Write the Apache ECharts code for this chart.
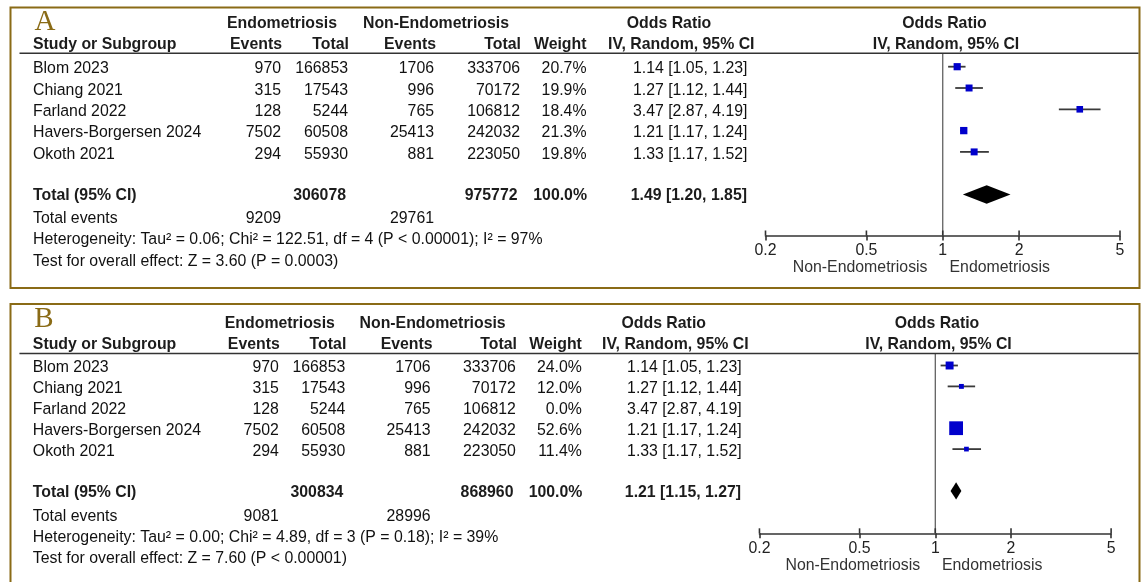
<!DOCTYPE html>
<html>
<head>
<meta charset="utf-8">
<script src="https://cdn.jsdelivr.net/npm/echarts@6/dist/echarts.min.js"></script>
<style>
html, body { margin: 0; padding: 0; background: #fff; }
#chart { width: 1141px; height: 582px; }
</style>
</head>
<body>
<div id="chart"></div>
<script>
// ---- study data ----
const studies = ['Blom 2023', 'Chiang 2021', 'Farland 2022', 'Havers-Borgersen 2024', 'Okoth 2021'];
const endoEvents = [970, 315, 128, 7502, 294];
const endoTotal = [166853, 17543, 5244, 60508, 55930];
const nonEvents = [1706, 996, 765, 25413, 881];
const nonTotal = [333706, 70172, 106812, 242032, 223050];
const orEst = [1.14, 1.27, 3.47, 1.21, 1.33];
const orLow = [1.05, 1.12, 2.87, 1.17, 1.17];
const orHigh = [1.23, 1.44, 4.19, 1.24, 1.52];
const weightA = [20.7, 19.9, 18.4, 21.3, 19.8];
const weightB = [24.0, 12.0, 0.0, 52.6, 11.4];

// pooled odds ratio [estimate, low, high]
const pooledA = [1.49, 1.20, 1.85];
const pooledB = [1.21, 1.15, 1.27];
// [endometriosis total, non-endometriosis total]
const totalsA = [306078, 975772];
const totalsB = [300834, 868960];
// [endometriosis events, non-endometriosis events]
const eventsA = [9209, 29761];
const eventsB = [9081, 28996];
// heterogeneity: [Tau², Chi², df, P, I²]
const hetA = ['0.06', '122.51', '4', 'P < 0.00001', '97'];
const hetB = ['0.00', '4.89', '3', 'P = 0.18', '39'];
// overall effect: [Z, P]
const effectA = ['3.60', 'P = 0.0003'];
const effectB = ['7.60', 'P < 0.00001'];

const tickValues = [0.2, 0.5, 1, 2, 5];

// ---- layout ----
const FONT = '"Liberation Sans", Arial, Helvetica, sans-serif';
const SERIF = '"Liberation Serif", "Times New Roman", serif';
const FS = 15.85;
const GOLD = '#8a6b16';

const panels = [
  {
    letter: 'A', weights: weightA, pooled: pooledA, totals: totalsA, events: eventsA, het: hetA, effect: effectA,
    sx: 1, boxTop: 7.5, boxBottom: 288, letterY: 22.5,
    h1: 24, h2: 45, rule: 53.3, rowTop: 66.7, rowH: 21.3, textDy: 2.4,
    evY: 219, hetY: 240, testY: 261.7, axisY: 235.5, titleY: 268, diamondH: 18.4
  },
  {
    letter: 'B', weights: weightB, pooled: pooledB, totals: totalsB, events: eventsB, het: hetB, effect: effectB,
    sx: 0.992, boxTop: 304, boxBottom: 600, letterY: 319,
    h1: 323.3, h2: 344.3, rule: 353.5, rowTop: 365.5, rowH: 20.9, textDy: 2.2,
    evY: 516.3, hetY: 537.3, testY: 558.3, axisY: 533.3, titleY: 565.7, diamondH: 17.3
  }
];

// column anchors (panel A scale; panel B is slightly narrower)
const COL = {
  study: 33, ee: 281, et: 348, ne: 434, nt: 520, w: 586.5, or: 747.5,
  hEndoC: 282, hNonC: 436, hOrC: 669, hIvR: 754.5,
  hEvR: 282, hEtR: 349, hNeR: 436, hNtR: 521, hWR: 586.5,
  tEtR: 346, tNtR: 517.5, tWR: 587, tOrR: 747,
  plotC: 944.5, axisL: 765.5, axisR: 1120, nonTitleR: 927.5, endoTitleL: 949.5,
  ruleL: 19.5, boxL: 10.5, boxR: 1139.5
};

function px(p, x) { return 10 + (x - 10) * p.sx; }

function txt(x, y, s, opt) {
  return {
    type: 'text', x: x, y: y, silent: true, z: 10,
    style: Object.assign({
      text: s, fontFamily: FONT, fontSize: FS, fill: '#111',
      align: 'left', verticalAlign: 'middle'
    }, opt || {})
  };
}
const R = { align: 'right' };
const C = { align: 'center' };
const BOLD = { fontWeight: 'bold', fill: '#1c1c1c' };

function fmtOR(o, l, h) {
  return o.toFixed(2) + ' [' + l.toFixed(2) + ', ' + h.toFixed(2) + ']';
}

const graphics = [];
panels.forEach(function (p) {
  // frame
  graphics.push({
    type: 'rect', silent: true, z: 1,
    shape: { x: COL.boxL, y: p.boxTop, width: COL.boxR - COL.boxL, height: p.boxBottom - p.boxTop },
    style: { fill: 'none', stroke: GOLD, lineWidth: 2 }
  });
  graphics.push(txt(px(p, 34.5), p.letterY, p.letter, { fontFamily: SERIF, fontSize: 29, fill: GOLD }));

  // header rows
  graphics.push(txt(px(p, COL.hEndoC), p.h1, 'Endometriosis', Object.assign({}, BOLD, C)));
  graphics.push(txt(px(p, COL.hNonC), p.h1, 'Non-Endometriosis', Object.assign({}, BOLD, C)));
  graphics.push(txt(px(p, COL.hOrC), p.h1, 'Odds Ratio', Object.assign({}, BOLD, C)));
  graphics.push(txt(px(p, COL.plotC), p.h1, 'Odds Ratio', Object.assign({}, BOLD, C)));
  graphics.push(txt(px(p, COL.study), p.h2, 'Study or Subgroup', BOLD));
  graphics.push(txt(px(p, COL.hEvR), p.h2, 'Events', Object.assign({}, BOLD, R)));
  graphics.push(txt(px(p, COL.hEtR), p.h2, 'Total', Object.assign({}, BOLD, R)));
  graphics.push(txt(px(p, COL.hNeR), p.h2, 'Events', Object.assign({}, BOLD, R)));
  graphics.push(txt(px(p, COL.hNtR), p.h2, 'Total', Object.assign({}, BOLD, R)));
  graphics.push(txt(px(p, COL.hWR), p.h2, 'Weight', Object.assign({}, BOLD, R)));
  graphics.push(txt(px(p, COL.hIvR), p.h2, 'IV, Random, 95% CI', Object.assign({}, BOLD, R)));
  graphics.push(txt(px(p, COL.plotC) + 1.5, p.h2, 'IV, Random, 95% CI', Object.assign({}, BOLD, C)));

  // rule under the header
  graphics.push({
    type: 'line', silent: true, z: 2,
    shape: { x1: px(p, COL.ruleL), y1: p.rule, x2: COL.boxR - 1, y2: p.rule },
    style: { stroke: '#333', lineWidth: 1.5 }
  });

  // study rows
  studies.forEach(function (name, i) {
    const y = p.rowTop + i * p.rowH + p.textDy;
    graphics.push(txt(px(p, COL.study), y, name));
    graphics.push(txt(px(p, COL.ee), y, String(endoEvents[i]), R));
    graphics.push(txt(px(p, COL.et), y, String(endoTotal[i]), R));
    graphics.push(txt(px(p, COL.ne), y, String(nonEvents[i]), R));
    graphics.push(txt(px(p, COL.nt), y, String(nonTotal[i]), R));
    graphics.push(txt(px(p, COL.w), y, p.weights[i].toFixed(1) + '%', R));
    graphics.push(txt(px(p, COL.or), y, fmtOR(orEst[i], orLow[i], orHigh[i]), R));
  });

  // pooled row
  const ty = p.rowTop + 6 * p.rowH + p.textDy - 0.8;
  graphics.push(txt(px(p, COL.study), ty, 'Total (95% CI)', BOLD));
  graphics.push(txt(px(p, COL.tEtR), ty, String(p.totals[0]), Object.assign({}, BOLD, R)));
  graphics.push(txt(px(p, COL.tNtR), ty, String(p.totals[1]), Object.assign({}, BOLD, R)));
  graphics.push(txt(px(p, COL.tWR), ty, '100.0%', Object.assign({}, BOLD, R)));
  graphics.push(txt(px(p, COL.tOrR), ty, fmtOR(p.pooled[0], p.pooled[1], p.pooled[2]), Object.assign({}, BOLD, R)));

  // summary lines
  graphics.push(txt(px(p, COL.study), p.evY, 'Total events'));
  graphics.push(txt(px(p, COL.ee), p.evY, String(p.events[0]), R));
  graphics.push(txt(px(p, COL.ne), p.evY, String(p.events[1]), R));
  graphics.push(txt(px(p, COL.study), p.hetY,
    'Heterogeneity: Tau\u00b2 = ' + p.het[0] + '; Chi\u00b2 = ' + p.het[1] + ', df = ' + p.het[2] +
    ' (' + p.het[3] + '); I\u00b2 = ' + p.het[4] + '%'));
  graphics.push(txt(px(p, COL.study), p.testY,
    'Test for overall effect: Z = ' + p.effect[0] + ' (' + p.effect[1] + ')'));

  // direction labels under the axis
  graphics.push(txt(px(p, COL.nonTitleR), p.titleY, 'Non-Endometriosis', { align: 'right', fill: '#333' }));
  graphics.push(txt(px(p, COL.endoTitleL), p.titleY, 'Endometriosis', { fill: '#333' }));
});

// ---- axes and series ----
const grids = [], xAxes = [], yAxes = [], series = [];
panels.forEach(function (p, k) {
  const left = px(p, COL.axisL);
  const right = px(p, COL.axisR);
  // rows: 0..4 studies, 6 pooled; grid spans from header rule to axis line
  const yMin = -(p.rowTop - p.rule) / p.rowH;
  const yMax = (p.axisY - p.rowTop) / p.rowH;
  grids.push({
    left: left, top: p.rule, width: right - left, height: p.axisY - p.rule,
    containLabel: false, outerBoundsMode: 'none', show: false
  });
  xAxes.push({
    type: 'log', logBase: 10, min: 0.2, max: 5, gridIndex: k, position: 'bottom',
    splitLine: { show: false }, minorTick: { show: false },
    axisLine: { show: true, onZero: false, lineStyle: { color: '#333', width: 1.6 } },
    axisTick: { show: true, inside: false, length: 5, customValues: tickValues, lineStyle: { color: '#333', width: 1.6 } },
    axisLabel: {
      show: true, customValues: tickValues, margin: 7, color: '#222',
      fontFamily: FONT, fontSize: FS,
      formatter: function (v) { return String(+(+v).toPrecision(3)); }
    }
  });
  yAxes.push({ type: 'value', gridIndex: k, inverse: true, min: yMin, max: yMax, show: false });

  // line of no effect
  series.push({
    type: 'custom', xAxisIndex: k, yAxisIndex: k, silent: true, z: 1,
    data: [[1]],
    renderItem: function (params, api) {
      const cs = params.coordSys;
      const x = api.coord([api.value(0), 0])[0];
      return { type: 'line', shape: { x1: x, y1: cs.y, x2: x, y2: cs.y + cs.height }, style: { stroke: '#555', lineWidth: 1.2 } };
    }
  });

  // upper half of the tick marks (ticks cross the axis line)
  series.push({
    type: 'custom', xAxisIndex: k, yAxisIndex: k, silent: true, z: 3,
    data: tickValues.map(function (v) { return [v]; }),
    renderItem: function (params, api) {
      const cs = params.coordSys;
      const x = api.coord([api.value(0), 0])[0];
      const yb = cs.y + cs.height;
      return { type: 'line', shape: { x1: x, y1: yb, x2: x, y2: yb - 5 }, style: { stroke: '#333', lineWidth: 1.6 } };
    }
  });

  const rows = studies.map(function (s, i) { return [orEst[i], orLow[i], orHigh[i], i, p.weights[i]]; });
  rows.push([p.pooled[0], p.pooled[1], p.pooled[2], 6, -1]);
  series.push({
    type: 'custom', xAxisIndex: k, yAxisIndex: k, silent: true, z: 5,
    encode: { x: [0, 1, 2], y: 3 },
    data: rows,
    renderItem: function (params, api) {
      const est = api.value(0), lo = api.value(1), hi = api.value(2), row = api.value(3), w = api.value(4);
      const c = api.coord([est, row]);
      const l = api.coord([lo, row]);
      const h = api.coord([hi, row]);
      if (w < 0) {
        const hh = p.diamondH / 2;
        return {
          type: 'polygon',
          shape: { points: [[l[0], c[1]], [c[0], c[1] - hh], [h[0], c[1]], [c[0], c[1] + hh]] },
          style: { fill: '#000' }
        };
      }
      if (w <= 0) return null;
      const s = 0.86 * Math.pow(w, 0.7);
      return {
        type: 'group',
        children: [
          { type: 'line', shape: { x1: l[0], y1: c[1], x2: h[0], y2: c[1] }, style: { stroke: '#3a3a3a', lineWidth: 1.8 } },
          { type: 'rect', shape: { x: c[0] - s / 2, y: c[1] - s / 2, width: s, height: s }, style: { fill: '#0000cc' } }
        ]
      };
    }
  });
});

const chart = echarts.init(document.getElementById('chart'), null, { renderer: 'canvas' });
chart.setOption({
  animation: false,
  backgroundColor: '#fff',
  grid: grids,
  xAxis: xAxes,
  yAxis: yAxes,
  series: series,
  graphic: { elements: graphics }
});
</script>
</body>
</html>
